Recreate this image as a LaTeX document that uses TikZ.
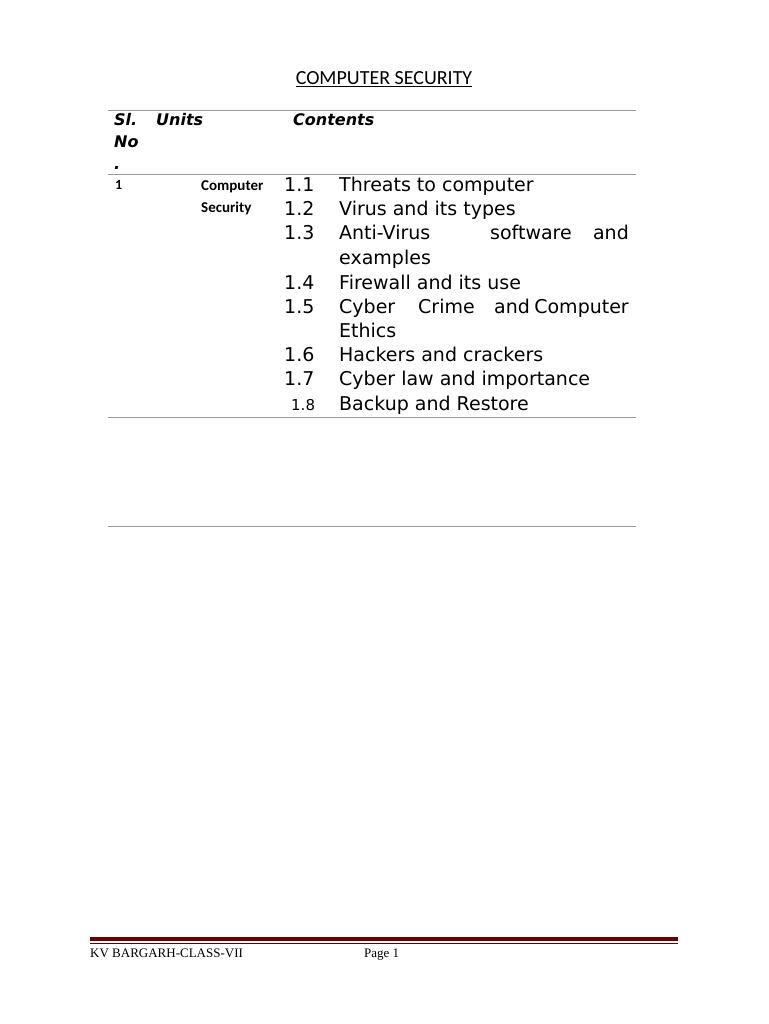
\documentclass[tikz,border=0pt]{standalone}
\usepackage{fontspec}
\setmainfont{DejaVu Sans}
\newfontfamily\carlitofam{Carlito}
\newfontfamily\ftrfam{Liberation Serif}
\begin{document}
\begin{tikzpicture}[x=1pt,y=-1pt,
  it/.style={anchor=base west,inner sep=0pt,font=\fontsize{19}{19}\selectfont},
  hd/.style={anchor=base west,inner sep=0pt,font=\fontsize{16}{16}\selectfont\bfseries\itshape},
  rule/.style={draw=black!40,line width=0.8pt}]
\useasboundingbox (0,0) rectangle (768,1024);
\node[anchor=base,inner sep=0pt,font=\carlitofam\fontsize{20}{20}\selectfont] (title) at (384,85) {\underline{COMPUTER SECURITY}};
\draw[rule] (108,110) -- (636,110);
\draw[rule] (108,174) -- (636,174);
\draw[rule] (108,417) -- (636,417);
\draw[rule] (108,526) -- (636,526);
\node[hd] (h1) at (114,126) {Sl.};
\node[hd] (h1b) at (114,148) {No};
\node[hd] (h1c) at (114,170) {.};
\node[hd] (h2) at (156,126) {Units};
\node[hd] (h3) at (293,126) {Contents};
\node[anchor=base west,inner sep=0pt,font=\carlitofam\bfseries\fontsize{14}{14}\selectfont] (n1) at (115,190) {1};
\node[anchor=base west,inner sep=0pt,font=\carlitofam\bfseries\fontsize{15}{15}\selectfont] (u1) at (201,191) {Computer};
\node[anchor=base west,inner sep=0pt,font=\carlitofam\bfseries\fontsize{15}{15}\selectfont] (u2) at (201,213) {Security};
\node[it] (a1) at (284,192) {1.1}; \node[it] (b1) at (339,192) {Threats to computer};
\node[it] (a2) at (284,216) {1.2}; \node[it] (b2) at (339,216) {Virus and its types};
\node[it] (a3) at (284,240) {1.3}; \node[it] (b3) at (339,240) {Anti-Virus};
\node[it,anchor=base] (c3) at (531,240) {software};
\node[it,anchor=base east] (d3) at (629,240) {and};
\node[it] (e3) at (339,264) {examples};
\node[it] (a4) at (284,289) {1.4}; \node[it] (b4) at (339,289) {Firewall and its use};
\node[it] (a5) at (284,313) {1.5}; \node[it] (b5) at (339,313) {Cyber};
\node[it] (c5) at (418,313) {Crime}; \node[it] (d5) at (494,313) {and};
\node[it,anchor=base east] (f5) at (629,313) {Computer};
\node[it] (e5) at (339,337) {Ethics};
\node[it] (a6) at (284,361) {1.6}; \node[it] (b6) at (339,361) {Hackers and crackers};
\node[it] (a7) at (284,385) {1.7}; \node[it] (b7) at (339,385) {Cyber law and importance};
\node[anchor=base west,inner sep=0pt,font=\fontsize{15}{15}\selectfont] (a8) at (291,410) {1.8}; \node[it] (b8) at (339,410) {Backup and Restore};
\fill[red!40!black] (90,937) rectangle (678,941);
\draw[red!40!black,line width=0.6pt] (90,943.5) -- (678,943.5);
\node[anchor=base west,inner sep=0pt,font=\ftrfam\fontsize{13}{13}\selectfont] (f1) at (90,957) {KV BARGARH-CLASS-VII};
\node[anchor=base west,inner sep=0pt,font=\ftrfam\fontsize{13}{13}\selectfont] (f2) at (364,957) {Page 1};
\end{tikzpicture}
\end{document}
